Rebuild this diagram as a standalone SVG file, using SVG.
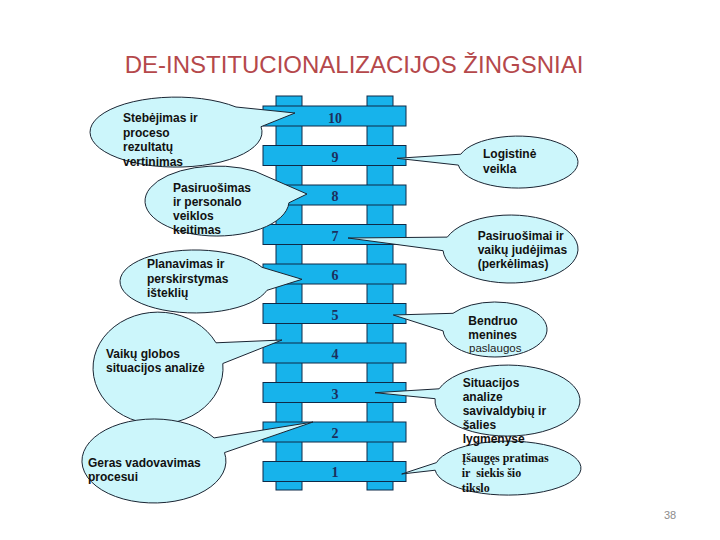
<svg xmlns="http://www.w3.org/2000/svg" width="720" height="540" viewBox="0 0 720 540">
<style>
.rail{fill:#17B3EB;stroke:#0e2a48;stroke-width:1}
.rung{fill:#17B3EB;stroke:#0e2a48;stroke-width:1}
.num{font-family:"Liberation Serif","Times New Roman",serif;font-weight:bold;font-size:14px;fill:#1c2f5e;text-anchor:middle}
.co{fill:#CCF6FB;stroke:#1a2533;stroke-width:1;stroke-linejoin:miter}
.t{font-family:"Liberation Sans",Arial,sans-serif;font-weight:bold;font-size:12px;fill:#111}
.tr{font-family:"Liberation Sans",Arial,sans-serif;font-size:11.5px;fill:#222}
.ts{font-family:"Liberation Serif","Times New Roman",serif;font-weight:bold;font-size:12px;fill:#111}
.title{font-family:"Liberation Sans",Arial,sans-serif;font-size:24px;fill:#B5484B;text-anchor:middle}
.pg{font-family:"Liberation Sans",Arial,sans-serif;font-size:11px;fill:#8c8c8c;text-anchor:middle}
</style>
<rect width="720" height="540" fill="#ffffff"/>
<text class="title" x="354" y="73">DE-INSTITUCIONALIZACIJOS ŽINGSNIAI</text>

<g id="ladder">
<rect class="rail" x="276" y="96" width="26" height="394"/>
<rect class="rail" x="367" y="96" width="26" height="394"/>
<g id="rung10"><rect class="rung" x="263" y="106" width="143" height="20"/><text class="num" x="335" y="122.5">10</text></g>
<g id="rung9"><rect class="rung" x="263" y="145.5" width="143" height="20"/><text class="num" x="335" y="161.5">9</text></g>
<g id="rung8"><rect class="rung" x="263" y="185" width="143" height="20"/><text class="num" x="335" y="201">8</text></g>
<g id="rung7"><rect class="rung" x="263" y="224.5" width="143" height="20"/><text class="num" x="335" y="240.5">7</text></g>
<g id="rung6"><rect class="rung" x="263" y="264" width="143" height="20"/><text class="num" x="335" y="280">6</text></g>
<g id="rung5"><rect class="rung" x="263" y="303.5" width="143" height="20"/><text class="num" x="335" y="319.5">5</text></g>
<g id="rung4"><rect class="rung" x="263" y="343" width="143" height="20"/><text class="num" x="335" y="359">4</text></g>
<g id="rung3"><rect class="rung" x="263" y="382.5" width="143" height="20"/><text class="num" x="335" y="398.5">3</text></g>
<g id="rung2"><rect class="rung" x="263" y="422" width="143" height="20"/><text class="num" x="335" y="438">2</text></g>
<g id="rung1"><rect class="rung" x="263" y="461.5" width="143" height="20"/><text class="num" x="335" y="477">1</text></g>
</g>

<g id="connectors"></g>

<g id="L1">
<path class="co" d="M236,107 L295,113 L261,126.7 A86 35 0 1 1 236,107 Z"/>
<text class="t" x="123" y="122">Stebėjimas ir</text>
<text class="t" x="123" y="136.5">proceso</text>
<text class="t" x="123" y="151">rezultatų</text>
<text class="t" x="123" y="165.5">vertinimas</text>
</g>
<g id="L2">
<path class="co" d="M255,171.3 L307,194 L288.9,202.8 A72 35 0 1 1 255,171.3 Z"/>
<text class="t" x="173" y="191.5">Pasiruošimas</text>
<text class="t" x="173" y="205.5">ir personalo</text>
<text class="t" x="173" y="219.5">veiklos</text>
<text class="t" x="173" y="233.5">keitimas</text>
</g>
<g id="L3">
<path class="co" d="M262,267.3 L302,279.3 L267,290.3 A75 31.5 0 1 1 262,267.3 Z"/>
<text class="t" x="147" y="268">Planavimas ir</text>
<text class="t" x="147" y="282.5">perskirstymas</text>
<text class="t" x="147" y="296.5">išteklių</text>
</g>
<g id="L4">
<path class="co" d="M216,342.8 L282,340 L222.8,363.5 A65 56 0 1 1 216,342.8 Z"/>
<text class="t" x="106" y="358">Vaikų globos</text>
<text class="t" x="106" y="372">situacijos analizė</text>
</g>
<g id="L5">
<path class="co" d="M214.1,437.9 L313,422 L224.5,452.6 A72 42 0 1 1 214.1,437.9 Z"/>
<text class="t" x="88" y="467">Geras vadovavimas</text>
<text class="t" x="88" y="481">procesui</text>
</g>

<g id="R1">
<path class="co" d="M460.8,154.2 L397,158.3 L458.4,165.1 A60 26 0 1 0 460.8,154.2 Z"/>
<text class="t" x="483" y="158.3">Logistinė</text>
<text class="t" x="483" y="172.7">veikla</text>
</g>
<g id="R2">
<path class="co" d="M447.3,237.1 L348,238 L443.1,250.7 A67.5 34 0 1 0 447.3,237.1 Z"/>
<text class="t" x="477.7" y="239.5">Pasiruošimai ir</text>
<text class="t" x="477.7" y="254">vaikų judėjimas</text>
<text class="t" x="477.7" y="267.5">(perkėlimas)</text>
</g>
<g id="R3">
<path class="co" d="M453,313.3 L393.3,315 L443.1,330.9 A52 27.5 0 1 0 453,313.3 Z"/>
<text class="t" x="468.3" y="325">Bendruo</text>
<text class="t" x="468.3" y="338.5">menines</text>
<text class="tr" x="469" y="352">paslaugos</text>
</g>
<g id="R5">
<path class="co" d="M436.5,462.6 L401.7,474 L435.2,470.2 A73 27 0 1 0 436.5,462.6 Z"/>
<text class="ts" x="461.7" y="462">Įšaugęs pratimas</text>
<text class="ts" x="461.7" y="477" xml:space="preserve">ir  siekis šio</text>
<text class="ts" x="461.7" y="492">tikslo</text>
</g>
<g id="R4">
<path class="co" d="M439.1,388.8 L375,392.7 L435.1,398.7 A72.5 35.5 0 1 0 439.1,388.8 Z"/>
<text class="t" x="462.7" y="386.7">Situacijos</text>
<text class="t" x="462.7" y="400.7">analize</text>
<text class="t" x="462.7" y="415">savivaldybių ir</text>
<text class="t" x="462.7" y="428.5">šalies</text>
<text class="t" x="462.7" y="442.7">lygmenyse</text>
</g>

<text class="pg" x="670" y="519">38</text>
</svg>
